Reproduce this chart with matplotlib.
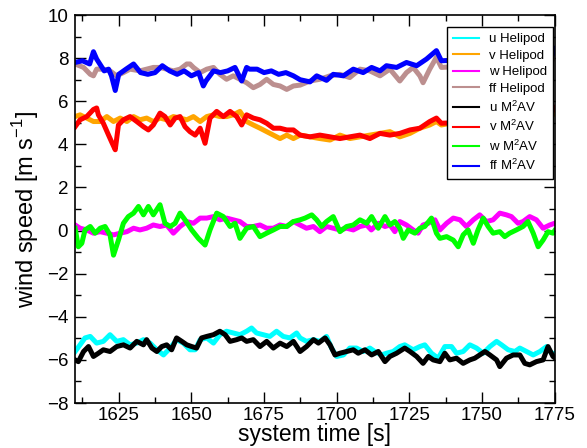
import matplotlib
matplotlib.use("Agg")
import matplotlib.pyplot as plt
from matplotlib.lines import Line2D
from matplotlib.ticker import MultipleLocator

plt.rcParams['font.family'] = ['Liberation Sans', 'DejaVu Sans']
plt.rcParams['mathtext.fontset'] = 'custom'
plt.rcParams['mathtext.rm'] = 'Liberation Sans'

# ff M2AV (blue)
t_ff_m = [1610.0, 1612.5, 1615.0, 1616.3, 1617.4, 1620.0, 1621.5, 1622.5, 1623.8, 1625.0,
          1627.5, 1630.1, 1632.5, 1635.0, 1637.5, 1640.0, 1642.5, 1645.1, 1647.5, 1650.0,
          1652.5, 1654.1, 1655.0, 1657.6, 1660.0, 1662.5, 1665.0, 1667.3, 1669.0, 1670.0,
          1672.6, 1675.0, 1677.5, 1680.0, 1682.5, 1685.1, 1687.4, 1690.8, 1693.1, 1696.5,
          1698.8, 1702.3, 1705.7, 1709.1, 1712.0, 1714.9, 1717.1, 1720.6, 1724.0, 1727.5,
          1730.9, 1734.3, 1736.0, 1740.0, 1745.0, 1750.0, 1755.0, 1760.0, 1765.0, 1769.9,
          1772.7, 1775.0]
v_ff_m = [7.80, 7.88, 7.73, 8.30, 7.96, 7.41, 7.49, 7.18, 6.50, 7.25,
          7.49, 7.73, 7.33, 7.25, 7.33, 7.65, 7.41, 7.25, 7.41, 7.18,
          7.33, 6.71, 6.94, 7.41, 7.33, 7.41, 7.57, 6.94, 7.57, 7.49,
          7.49, 7.33, 7.41, 7.25, 7.33, 7.18, 7.00, 6.90, 7.18, 6.97,
          7.25, 7.18, 7.49, 7.33, 7.57, 7.41, 7.65, 7.57, 7.80, 7.65,
          7.96, 8.35, 7.88, 7.90, 7.70, 7.90, 7.80, 8.00, 7.90, 8.20,
          7.65, 8.45]

# ff Helipod (brown)
t_ff_h = [1610.0, 1612.9, 1615.2, 1616.3, 1617.4, 1619.7, 1622.0, 1624.3, 1626.6, 1628.9,
          1632.3, 1634.6, 1636.9, 1639.2, 1641.5, 1643.8, 1646.1, 1648.4, 1649.5, 1650.7,
          1653.0, 1655.3, 1657.6, 1659.8, 1662.1, 1664.4, 1666.7, 1669.0, 1671.3, 1673.6,
          1675.9, 1678.2, 1680.5, 1682.8, 1685.1, 1687.4, 1690.8, 1694.2, 1697.7, 1701.1,
          1704.5, 1708.0, 1711.4, 1714.9, 1718.3, 1721.7, 1724.0, 1726.3, 1728.6, 1729.7,
          1732.0, 1734.3, 1736.0, 1740.0, 1750.0, 1760.0, 1765.0, 1769.9, 1772.7, 1775.0]
v_ff_h = [7.73, 7.57, 7.25, 7.18, 7.49, 7.49, 7.41, 7.18, 7.33, 7.49,
          7.41, 7.49, 7.57, 7.57, 7.49, 7.41, 7.49, 7.73, 7.73, 7.57,
          7.33, 7.49, 7.57, 7.25, 7.02, 7.18, 7.02, 6.86, 6.63, 6.78,
          7.02, 6.78, 6.71, 6.55, 6.71, 6.75, 6.94, 7.02, 7.18, 7.25,
          7.10, 7.49, 7.41, 7.18, 7.49, 6.94, 7.33, 7.57, 7.18, 6.86,
          7.49, 8.04, 7.57, 7.60, 7.50, 7.70, 7.60, 8.12, 7.41, 8.20]

# v M2AV (red)
t_v_m = [1610.0, 1611.7, 1614.0, 1616.3, 1617.4, 1618.0, 1619.7, 1621.5, 1622.6, 1623.8,
         1624.9, 1626.6, 1628.9, 1631.2, 1633.5, 1635.2, 1636.9, 1639.2, 1640.9, 1642.7,
         1644.4, 1646.1, 1647.8, 1649.5, 1651.3, 1653.0, 1654.7, 1656.4, 1658.7, 1661.0,
         1663.3, 1665.6, 1667.3, 1669.0, 1671.3, 1673.6, 1675.9, 1678.2, 1680.5, 1682.8,
         1685.1, 1687.4, 1690.8, 1694.2, 1697.7, 1701.1, 1704.5, 1708.0, 1711.4, 1714.9,
         1718.3, 1721.7, 1725.2, 1728.6, 1732.0, 1734.3, 1736.0, 1740.0, 1745.0, 1750.0,
         1755.0, 1760.0, 1765.0, 1769.9, 1772.7, 1775.0]
v_v_m = [4.82, 5.14, 5.29, 5.62, 5.69, 5.37, 4.98, 4.43, 4.10, 3.75,
         4.90, 5.14, 5.29, 5.06, 4.82, 4.67, 4.90, 5.45, 5.29, 4.90,
         5.22, 5.29, 4.82, 4.59, 4.43, 4.75, 4.05, 5.22, 5.53, 5.29,
         5.53, 5.29, 4.90, 5.37, 5.22, 5.14, 4.98, 4.75, 4.75, 4.67,
         4.67, 4.43, 4.35, 4.43, 4.35, 4.27, 4.35, 4.43, 4.27, 4.51,
         4.43, 4.51, 4.67, 4.75, 5.06, 5.22, 4.98, 5.00, 4.90, 5.10,
         5.00, 5.20, 5.30, 5.53, 5.29, 5.69]

# v Helipod (orange)
t_v_h = [1610.0, 1611.7, 1614.0, 1616.3, 1618.6, 1620.9, 1623.2, 1625.5, 1627.8, 1630.1,
         1632.3, 1634.6, 1636.9, 1639.2, 1641.5, 1643.8, 1646.1, 1648.4, 1650.7, 1653.0,
         1655.3, 1657.6, 1659.8, 1662.1, 1664.4, 1666.7, 1669.0, 1671.3, 1673.6, 1675.9,
         1678.2, 1680.5, 1682.8, 1685.1, 1687.4, 1690.8, 1694.2, 1697.7, 1701.1, 1704.5,
         1708.0, 1711.4, 1714.9, 1718.3, 1721.7, 1725.2, 1728.6, 1732.0, 1734.3, 1736.0,
         1740.0, 1750.0, 1760.0, 1765.0, 1769.9, 1772.7, 1775.0]
v_v_h = [5.29, 5.37, 5.22, 5.06, 5.06, 5.29, 5.06, 5.22, 5.06, 5.29,
         5.14, 5.22, 5.06, 5.22, 5.14, 5.29, 5.22, 5.14, 5.29, 5.06,
         5.29, 5.37, 5.29, 5.29, 5.37, 5.53, 5.06, 4.90, 4.75, 4.59,
         4.43, 4.27, 4.43, 4.27, 4.43, 4.35, 4.27, 4.20, 4.43, 4.27,
         4.35, 4.43, 4.51, 4.59, 4.35, 4.51, 4.75, 4.90, 5.06, 4.90,
         5.00, 5.00, 5.10, 5.10, 5.30, 5.05, 5.50]

# w M2AV (green)
t_w_m = [1610.0, 1611.1, 1612.3, 1613.4, 1615.2, 1616.9, 1618.6, 1620.3, 1622.0, 1623.2,
         1624.9, 1626.6, 1628.3, 1630.1, 1631.8, 1633.5, 1635.2, 1636.9, 1639.2, 1640.9,
         1642.7, 1644.4, 1646.1, 1647.8, 1650.1, 1652.4, 1654.7, 1656.4, 1658.7, 1661.0,
         1663.3, 1665.0, 1666.7, 1669.0, 1671.3, 1673.6, 1675.9, 1678.2, 1680.5, 1682.8,
         1685.1, 1687.4, 1689.1, 1691.4, 1693.1, 1694.8, 1696.5, 1698.8, 1701.1, 1703.4,
         1705.7, 1708.0, 1710.3, 1712.0, 1714.3, 1716.6, 1718.3, 1720.0, 1721.7, 1722.9,
         1724.6, 1726.9, 1728.6, 1730.3, 1732.6, 1734.3, 1735.5, 1737.8, 1740.1, 1741.8,
         1743.5, 1745.2, 1747.0, 1748.6, 1750.4, 1752.1, 1753.8, 1756.1, 1757.8, 1759.5,
         1761.8, 1764.1, 1765.8, 1767.6, 1769.3, 1771.0, 1772.7, 1774.4, 1775.0]
v_w_m = [0.11, -0.75, -0.59, 0.03, 0.19, -0.12, 0.11, 0.19, -0.20, -1.14,
         -0.44, 0.34, 0.65, 0.81, 1.12, 0.73, 1.12, 0.73, 1.20, 0.34,
         0.19, 0.34, 0.81, 0.50, 0.03, -0.36, -0.67, 0.03, 0.81, 0.65,
         0.19, 0.34, -0.36, 0.11, 0.19, -0.28, -0.12, 0.03, 0.19, 0.19,
         0.42, 0.50, 0.58, 0.73, 0.50, 0.19, 0.42, 0.65, -0.05, 0.19,
         0.26, 0.50, 0.34, 0.65, 0.11, 0.65, 0.26, 0.42, 0.11, -0.36,
         0.03, -0.12, 0.11, 0.19, 0.58, -0.12, -0.36, -0.28, -0.44, -0.75,
         -0.20, 0.03, -0.59, 0.03, 0.58, 0.19, -0.12, -0.05, -0.28, -0.12,
         0.03, 0.19, 0.42, -0.12, -0.75, -0.44, -0.05, -0.12, 0.00]

# w Helipod (magenta)
t_w_h = [1610.0, 1611.7, 1614.0, 1616.3, 1618.6, 1620.9, 1623.2, 1625.5, 1627.8, 1630.1,
         1632.3, 1634.6, 1636.9, 1639.2, 1641.5, 1643.8, 1646.1, 1648.4, 1650.7, 1653.0,
         1655.3, 1657.6, 1659.8, 1662.1, 1664.4, 1666.7, 1669.0, 1671.3, 1673.6, 1675.9,
         1678.2, 1680.5, 1682.8, 1685.1, 1687.4, 1689.6, 1692.0, 1694.2, 1696.5, 1698.8,
         1701.1, 1703.4, 1705.7, 1708.0, 1710.3, 1711.9, 1714.3, 1716.6, 1718.3, 1720.0,
         1721.7, 1724.0, 1726.3, 1728.0, 1729.7, 1731.5, 1733.8, 1735.5, 1737.8, 1740.1,
         1742.4, 1744.6, 1747.0, 1749.2, 1751.5, 1753.8, 1756.1, 1758.4, 1760.1, 1762.4,
         1764.1, 1766.4, 1768.7, 1771.0, 1773.3, 1775.0]
v_w_h = [0.26, 0.11, 0.03, -0.12, -0.05, -0.12, -0.20, -0.12, -0.05, 0.11,
         0.03, 0.11, 0.26, 0.19, 0.26, -0.12, 0.19, 0.42, 0.34, 0.58,
         0.58, 0.65, 0.50, 0.58, 0.50, 0.42, 0.19, 0.19, 0.26, 0.11,
         0.11, 0.26, 0.19, 0.42, 0.26, 0.11, 0.19, -0.05, 0.19, 0.11,
         0.03, 0.11, 0.03, 0.19, 0.26, 0.03, 0.34, 0.19, 0.26, -0.05,
         0.42, 0.26, 0.03, -0.12, 0.26, 0.34, 0.50, 0.03, 0.34, 0.58,
         0.50, 0.19, 0.50, 0.73, 0.42, 0.50, 0.81, 0.73, 0.65, 0.34,
         0.42, 0.65, 0.50, 0.11, 0.26, 0.34]

# u M2AV (black)
t_u_m = [1610.0, 1611.1, 1612.9, 1614.6, 1616.3, 1618.0, 1619.7, 1622.0, 1624.3, 1626.6,
         1628.9, 1631.2, 1633.5, 1634.6, 1636.4, 1638.1, 1639.8, 1641.5, 1643.2, 1644.9,
         1646.7, 1648.4, 1650.1, 1651.8, 1653.5, 1655.3, 1657.6, 1659.8, 1661.6, 1663.3,
         1665.6, 1667.3, 1669.0, 1671.3, 1673.6, 1675.9, 1678.2, 1680.5, 1682.8, 1685.1,
         1687.4, 1689.6, 1692.0, 1693.7, 1696.0, 1697.7, 1699.4, 1701.1, 1703.4, 1705.7,
         1707.4, 1709.7, 1712.0, 1714.3, 1716.6, 1718.3, 1720.6, 1723.4, 1725.2, 1727.5,
         1729.7, 1731.5, 1733.2, 1735.5, 1737.2, 1738.9, 1741.2, 1743.5, 1745.8, 1747.5,
         1749.2, 1751.0, 1752.7, 1755.0, 1756.1, 1758.4, 1760.7, 1763.0, 1764.7, 1766.4,
         1768.7, 1771.0, 1772.7, 1774.4, 1775.0]
v_u_m = [-6.00, -6.08, -5.61, -5.38, -5.84, -5.69, -5.53, -5.61, -5.38, -5.30,
         -5.45, -5.14, -5.30, -5.06, -5.45, -5.61, -5.38, -5.30, -5.53, -4.98,
         -5.14, -5.30, -5.38, -5.45, -4.98, -4.91, -4.83, -4.67, -4.83, -5.14,
         -5.06, -4.98, -5.14, -5.06, -5.38, -5.14, -5.45, -5.22, -5.38, -5.14,
         -5.61, -5.38, -5.06, -5.22, -4.98, -5.30, -5.77, -5.69, -5.61, -5.53,
         -5.69, -5.53, -5.77, -5.61, -6.08, -5.84, -5.69, -5.45, -5.61, -5.84,
         -6.16, -5.84, -6.00, -6.08, -5.69, -6.00, -5.92, -6.16, -6.00, -5.92,
         -5.77, -5.61, -5.77, -6.00, -6.31, -5.92, -5.77, -5.77, -6.16, -6.23,
         -6.08, -6.00, -5.38, -5.84, -5.90]

# u Helipod (cyan)
t_u_h = [1610.0, 1611.7, 1613.4, 1615.2, 1617.4, 1619.7, 1622.0, 1624.3, 1626.6, 1628.9,
         1631.2, 1633.5, 1635.8, 1638.1, 1640.4, 1642.7, 1644.9, 1647.2, 1649.5, 1651.3,
         1653.0, 1655.3, 1657.6, 1659.8, 1662.1, 1664.4, 1666.7, 1669.0, 1670.7, 1672.4,
         1674.7, 1677.0, 1679.3, 1681.6, 1683.9, 1686.2, 1687.4, 1689.6, 1692.0, 1694.2,
         1696.5, 1698.2, 1700.0, 1702.3, 1704.5, 1706.8, 1709.1, 1711.4, 1713.1, 1715.4,
         1717.1, 1719.4, 1721.7, 1723.4, 1726.3, 1728.6, 1730.3, 1732.6, 1734.9, 1737.2,
         1739.5, 1741.2, 1743.5, 1745.8, 1748.1, 1750.4, 1752.7, 1755.0, 1756.7, 1759.0,
         1761.3, 1763.0, 1765.3, 1767.6, 1769.9, 1772.2, 1774.4, 1775.0]
v_u_h = [-5.61, -5.30, -4.98, -4.91, -5.22, -5.14, -4.83, -5.14, -5.06, -5.30,
         -5.22, -5.06, -5.22, -5.53, -5.77, -5.45, -5.06, -5.22, -5.53, -5.53,
         -5.06, -4.98, -5.22, -4.83, -4.67, -4.75, -4.83, -4.67, -4.52, -4.75,
         -4.83, -4.91, -4.67, -4.91, -4.98, -4.75, -4.98, -5.14, -5.06, -5.14,
         -4.91, -5.45, -5.84, -5.77, -5.45, -5.45, -5.61, -5.45, -5.61, -5.77,
         -5.69, -5.61, -5.38, -5.30, -5.53, -5.38, -5.30, -5.69, -5.92, -5.38,
         -5.38, -5.69, -5.61, -5.30, -5.45, -5.69, -5.38, -5.14, -5.30, -5.53,
         -5.61, -5.45, -5.61, -5.77, -5.61, -5.38, -5.77, -5.70]

fig = plt.figure(figsize=(5.87, 4.48), dpi=100)
ax = fig.add_axes([0.128, 0.1004, 0.817, 0.866])

lw = 3.6
# Helipod below, M2AV on top
series = [
    (t_u_h, v_u_h, '#00ffff', 'u Helipod'),
    (t_v_h, v_v_h, '#ffa500', 'v Helipod'),
    (t_w_h, v_w_h, '#ff00ff', 'w Helipod'),
    (t_ff_h, v_ff_h, '#bc8f8f', 'ff Helipod'),
    (t_u_m, v_u_m, '#000000', 'u M$^2$AV'),
    (t_v_m, v_v_m, '#ff0000', 'v M$^2$AV'),
    (t_w_m, v_w_m, '#00ff00', 'w M$^2$AV'),
    (t_ff_m, v_ff_m, '#0000ff', 'ff M$^2$AV'),
]
handles = []
for t, v, c, lab in series:
    ax.plot(t, v, color=c, lw=lw, solid_joinstyle='round')
    handles.append(Line2D([], [], color=c, lw=1.5, label=lab))

ax.set_xlim(1610, 1775)
ax.set_ylim(-8, 10)
ax.xaxis.set_major_locator(MultipleLocator(25))
ax.xaxis.set_minor_locator(MultipleLocator(12.5))
ax.yaxis.set_major_locator(MultipleLocator(2))
ax.yaxis.set_minor_locator(MultipleLocator(1))
ax.tick_params(which='both', direction='in', top=True, right=True, labelsize=13.5)
ax.tick_params(which='major', length=8, width=1)
ax.tick_params(axis='x', which='major', pad=3)
ax.tick_params(axis='y', which='major', pad=5)
ax.tick_params(which='minor', length=4, width=1)
for s in ax.spines.values():
    s.set_linewidth(1.2)

ax.set_xlabel('system time [s]', fontsize=16.5, labelpad=-1)
ax.set_ylabel('wind speed [m s$^{-1}$]', fontsize=17, labelpad=4)

leg = ax.legend(handles=handles, loc='upper right', bbox_to_anchor=(0.996, 0.969),
                borderaxespad=0, fontsize=9.5, frameon=True, fancybox=False,
                edgecolor='black', framealpha=1, handlelength=2.0,
                handletextpad=0.7, labelspacing=0.33, borderpad=0.45)
leg.get_frame().set_linewidth(1.0)

fig.savefig('out.png', dpi=100)
